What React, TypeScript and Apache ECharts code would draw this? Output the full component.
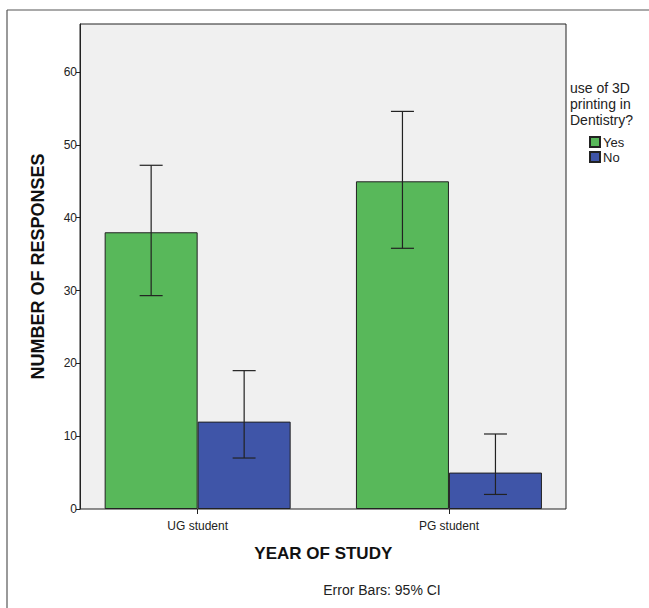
import React, { useEffect, useRef } from "react";
import * as echarts from "echarts";

const categories = ["UG student", "PG student"];
const seriesNames = ["Yes", "No"];
const yesValues = [38, 45];
const noValues = [12, 5];
const yesLow = [29.3, 35.8];
const yesHigh = [47.2, 54.6];
const noLow = [7.0, 2.0];
const noHigh = [19.0, 10.3];
const yTicks = [0, 10, 20, 30, 40, 50, 60];
const Y_MAX = 66.6;

const FONT = "Liberation Sans, Arial, Helvetica, sans-serif";
const BAR_W = 93;

export default function App() {
  const ref = useRef<HTMLDivElement>(null);
  useEffect(() => {
    if (!ref.current) return;
    const chart = echarts.init(ref.current, undefined, { renderer: "svg" });

    const errSeries = (low: number[], high: number[], offset: number, name: string) => ({
      type: "custom",
      name: name + " CI",
      xAxisIndex: 1,
      yAxisIndex: 1,
      z: 5,
      data: low.map((l, i) => [i, l, high[i]]),
      renderItem: (params: any, api: any) => {
        const i = api.value(0);
        const lo = api.coord([i, api.value(1)]);
        const hi = api.coord([i, api.value(2)]);
        const x = lo[0] + offset;
        const cap = 11.5;
        const st = { stroke: "#222", lineWidth: 1.2 };
        return {
          type: "group",
          children: [
            { type: "line", shape: { x1: x, y1: lo[1], x2: x, y2: hi[1] }, style: st },
            { type: "line", shape: { x1: x - cap, y1: lo[1], x2: x + cap, y2: lo[1] }, style: st },
            { type: "line", shape: { x1: x - cap, y1: hi[1], x2: x + cap, y2: hi[1] }, style: st },
          ],
        };
      },
    });

    chart.setOption({
      animation: false,
      backgroundColor: "#ffffff",
      textStyle: { fontFamily: FONT },
      title: {
        text: "use of 3D\nprinting in\nDentistry?",
        left: 570,
        top: 80,
        padding: 0,
        textStyle: { fontSize: 14, fontWeight: "normal", color: "#222", lineHeight: 16, fontFamily: FONT },
      },
      legend: {
        data: seriesNames,
        orient: "vertical",
        left: 589,
        top: 135.5,
        padding: 0,
        itemWidth: 10,
        itemHeight: 10,
        itemGap: 2,
        icon: "rect",
        textStyle: { fontSize: 13, color: "#222", padding: [0, 0, 0, -2] },
      },
      grid: [
        {
          left: 80, top: 24, width: 486, height: 485,
          show: true, backgroundColor: "#f0f0f0", borderColor: "#222", borderWidth: 1,
        },
        { left: 72, top: 24, width: 502.6, height: 485 },
      ],
      xAxis: [
        { gridIndex: 0, type: "category", data: categories, show: false },
        {
          gridIndex: 1,
          type: "category",
          data: categories,
          axisLine: { show: false },
          axisTick: { show: true, alignWithLabel: true, length: 5, lineStyle: { color: "#222" } },
          axisLabel: { fontSize: 12, color: "#222", margin: 11 },
          name: "YEAR OF STUDY",
          nameLocation: "middle",
          nameGap: 36,
          nameTextStyle: { fontSize: 17, fontWeight: "bold", color: "#111" },
        },
      ],
      yAxis: [
        {
          gridIndex: 0,
          type: "value",
          min: 0,
          max: Y_MAX,
          interval: 10,
          axisLine: { show: true, lineStyle: { color: "#222" } },
          axisTick: { show: true, length: 4, lineStyle: { color: "#222" }, customValues: yTicks },
          axisLabel: { fontSize: 12, color: "#222", margin: 3, customValues: yTicks },
          splitLine: { show: false },
          name: "NUMBER OF RESPONSES",
          nameLocation: "middle",
          nameRotate: 90,
          nameGap: 33,
          nameTextStyle: { fontSize: 18, fontWeight: "bold", color: "#111" },
        },
        { gridIndex: 1, type: "value", min: 0, max: Y_MAX, show: false },
      ],
      series: [
        {
          type: "bar",
          name: "Yes",
          xAxisIndex: 1,
          yAxisIndex: 1,
          data: yesValues,
          barWidth: BAR_W,
          barGap: "0%",
          itemStyle: { color: "#58b85a", borderColor: "#222", borderWidth: 1 },
        },
        {
          type: "bar",
          name: "No",
          xAxisIndex: 1,
          yAxisIndex: 1,
          data: noValues,
          barWidth: BAR_W,
          barGap: "0%",
          itemStyle: { color: "#3f55a8", borderColor: "#222", borderWidth: 1 },
        },
        errSeries(yesLow, yesHigh, -BAR_W / 2, "Yes"),
        errSeries(noLow, noHigh, BAR_W / 2, "No"),
      ],
      graphic: [
        { type: "line", shape: { x1: 7, y1: 10, x2: 7, y2: 608 }, style: { stroke: "#9a9a9a", lineWidth: 2 } },
        { type: "line", shape: { x1: 7, y1: 10, x2: 649, y2: 10 }, style: { stroke: "#555", lineWidth: 1 } },
        {
          type: "text",
          x: 382,
          y: 590,
          style: {
            text: "Error Bars: 95% CI",
            fontSize: 14,
            fontFamily: FONT,
            fill: "#222",
            textAlign: "center",
            textVerticalAlign: "middle",
          },
        },
      ],
    });
    return () => chart.dispose();
  }, []);
  return (
    <div
      ref={ref}
      style={{ position: "fixed", left: 0, top: 0, width: 649, height: 608, background: "#fff" }}
    />
  );
}
